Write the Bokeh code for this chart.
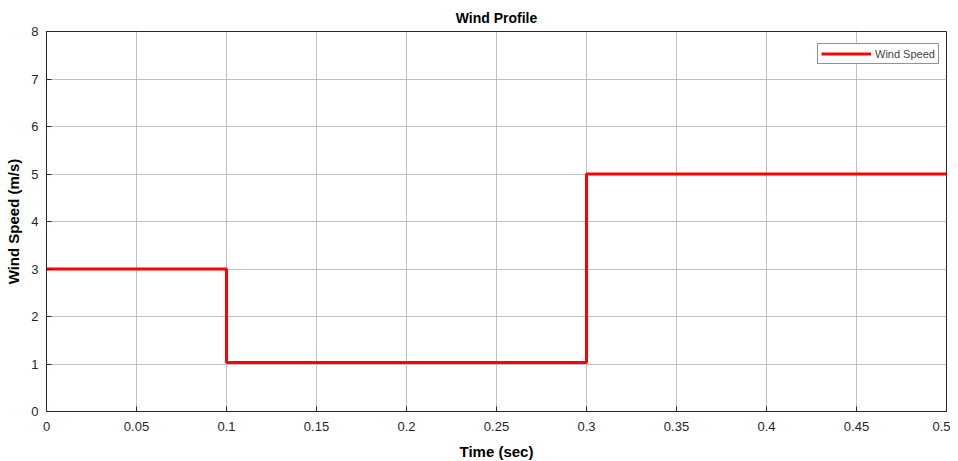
from bokeh.plotting import figure
from bokeh.models import FixedTicker, Legend, LegendItem, Range1d
from bokeh.embed import file_html
from bokeh.resources import INLINE

time_s = [0.0, 0.1, 0.3, 0.5]
wind_speed = [3.0, 1.03, 5.0, 5.0]
x_ticks = [0, 0.05, 0.1, 0.15, 0.2, 0.25, 0.3, 0.35, 0.4, 0.45, 0.5]
x_tick_labels = ["0", "0.05", "0.1", "0.15", "0.2", "0.25", "0.3", "0.35", "0.4", "0.45", "0.5"]
y_ticks = [0, 1, 2, 3, 4, 5, 6, 7, 8]

p = figure(frame_width=900, frame_height=380, output_backend="svg", toolbar_location=None,
           x_range=Range1d(0, 0.5), y_range=Range1d(0, 8),
           min_border_left=46, min_border_right=4, min_border_top=31, min_border_bottom=42,
           title="Wind Profile")
p.title.align = "center"
p.title.text_font = "Liberation Sans"
p.title.text_font_size = "14px"
p.title.text_font_style = "bold"
p.title.text_color = "#000000"
p.title.offset = 0
p.title.standoff = 11

p.xaxis.ticker = FixedTicker(ticks=x_ticks)
p.xaxis.major_label_overrides = {t: l for t, l in zip(x_ticks, x_tick_labels)}
p.yaxis.ticker = FixedTicker(ticks=y_ticks)
for ax in (p.xaxis, p.yaxis):
    ax.major_tick_in = 5
    ax.major_tick_out = 0
    ax.minor_tick_line_color = None
    ax.axis_line_color = "#262626"
    ax.major_tick_line_color = "#262626"
    ax.major_label_text_font = "Liberation Sans"
    ax.major_label_text_font_size = "13px"
    ax.major_label_text_color = "#262626"
    ax.axis_label_text_font = "Liberation Sans"
    ax.axis_label_text_font_size = "15px"
    ax.axis_label_text_font_style = "bold"
    ax.axis_label_text_color = "#000000"
p.xaxis.axis_label = "Time (sec)"
p.yaxis.axis_label = "Wind Speed (m/s)"
p.xaxis.major_label_standoff = 10
p.xaxis.axis_label_standoff = 9
p.yaxis.major_label_standoff = 8
p.yaxis.axis_label_standoff = 6

p.xgrid.ticker = FixedTicker(ticks=x_ticks)
p.ygrid.ticker = FixedTicker(ticks=y_ticks)
p.grid.grid_line_color = "#b0b0b0"
p.grid.grid_line_alpha = 0.8
p.outline_line_color = "#262626"
p.outline_line_width = 1
p.outline_line_alpha = 1

r = p.step(time_s, wind_speed, mode="after", line_color="#ff0000", line_width=3)

legend = Legend(items=[LegendItem(label="Wind Speed", renderers=[r])], location=(771, 347))
legend.label_text_font = "Liberation Sans"
legend.label_text_font_size = "11px"
legend.label_height = 13
legend.glyph_height = 13
legend.glyph_width = 50
legend.padding = 3
legend.margin = 0
legend.spacing = 0
legend.label_standoff = 4
legend.border_line_color = "#262626"
legend.background_fill_alpha = 1
p.add_layout(legend)

open("out.html", "w").write(file_html(p, INLINE))
